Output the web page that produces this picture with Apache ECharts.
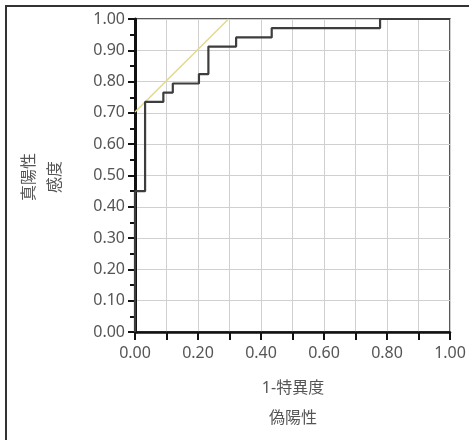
<!DOCTYPE html>
<html>
<head>
<meta charset="utf-8">
<script src="https://cdn.jsdelivr.net/npm/echarts@6/dist/echarts.min.js"></script>
<style>
html,body{margin:0;padding:0;background:#fff;}
#chart{width:469px;height:440px;}
</style>
</head>
<body>
<div id="chart"></div>
<script>
// ROC curve corner points (false positive rate, true positive rate)
const fpr = [0, 0, 0.032, 0.032, 0.09, 0.09, 0.12, 0.12, 0.203, 0.203, 0.233, 0.233, 0.321, 0.321, 0.434, 0.434, 0.778, 0.778, 1.0];
const tpr = [0, 0.45, 0.45, 0.735, 0.735, 0.765, 0.765, 0.794, 0.794, 0.824, 0.824, 0.912, 0.912, 0.941, 0.941, 0.971, 0.971, 1.0, 1.0];
// tangent reference line
const refX = [0, 0.297];
const refY = [0.703, 1.0];
const xTitle = ['1-特異度', '偽陽性'];
const yTitle = ['真陽性', '感度'];

const chart = echarts.init(document.getElementById('chart'), null, {renderer: 'canvas'});
const font = "'Noto Sans', 'Noto Sans CJK JP', sans-serif";
const txtColor = '#555';
const gridLine = {show: true, lineStyle: {color: '#d0d0d0', width: 1}};

chart.setOption({
  animation: false,
  backgroundColor: '#fff',
  grid: {left: 135, top: 19, width: 315, height: 313, show: true, borderColor: '#222', borderWidth: 1.5, backgroundColor: 'transparent'},
  xAxis: {
    type: 'value', min: 0, max: 1, interval: 0.2,
    axisLine: {show: true, onZero: false, lineStyle: {color: '#111', width: 2.5}},
    axisTick: {show: true, length: 8, lineStyle: {color: '#111', width: 2}},
    minorTick: {show: true, splitNumber: 2, length: 8, lineStyle: {color: '#111', width: 2}},
    splitLine: gridLine,
    minorSplitLine: gridLine,
    axisLabel: {formatter: v => v.toFixed(2), fontSize: 16, color: txtColor, fontFamily: font, margin: 13}
  },
  yAxis: {
    type: 'value', min: 0, max: 1, interval: 0.1,
    axisLine: {show: true, onZero: false, lineStyle: {color: '#111', width: 3}},
    axisTick: {show: true, length: 7, lineStyle: {color: '#111', width: 2}},
    minorTick: {show: true, splitNumber: 2, length: 5, lineStyle: {color: '#111', width: 2}},
    splitLine: gridLine,
    axisLabel: {formatter: v => v.toFixed(2), fontSize: 16, color: txtColor, fontFamily: font, margin: 10}
  },
  series: [
    {
      type: 'line', symbol: 'none', silent: true,
      data: refX.map((x, i) => [x, refY[i]]),
      lineStyle: {color: '#e2d98e', width: 1.5}
    },
    {
      type: 'line', symbol: 'none', silent: true,
      data: fpr.map((x, i) => [x, tpr[i]]),
      lineStyle: {color: '#3d3d3d', width: 2.2}
    }
  ],
  graphic: [
    {type: 'rect', shape: {x: 6, y: 6, width: 520, height: 520}, style: {fill: 'none', stroke: '#333', lineWidth: 2}, silent: true},
    {type: 'text', x: 293, y: 388, style: {text: xTitle[0], fontSize: 16, fill: txtColor, fontFamily: font, textAlign: 'center', textVerticalAlign: 'middle'}},
    {type: 'text', x: 293, y: 418, style: {text: xTitle[1], fontSize: 16, fill: txtColor, fontFamily: font, textAlign: 'center', textVerticalAlign: 'middle'}},
    {type: 'text', x: 29, y: 177, rotation: Math.PI / 2, style: {text: yTitle[0], fontSize: 16, fill: txtColor, fontFamily: font, textAlign: 'center', textVerticalAlign: 'middle'}},
    {type: 'text', x: 55, y: 177, rotation: Math.PI / 2, style: {text: yTitle[1], fontSize: 16, fill: txtColor, fontFamily: font, textAlign: 'center', textVerticalAlign: 'middle'}}
  ]
});
</script>
</body>
</html>
